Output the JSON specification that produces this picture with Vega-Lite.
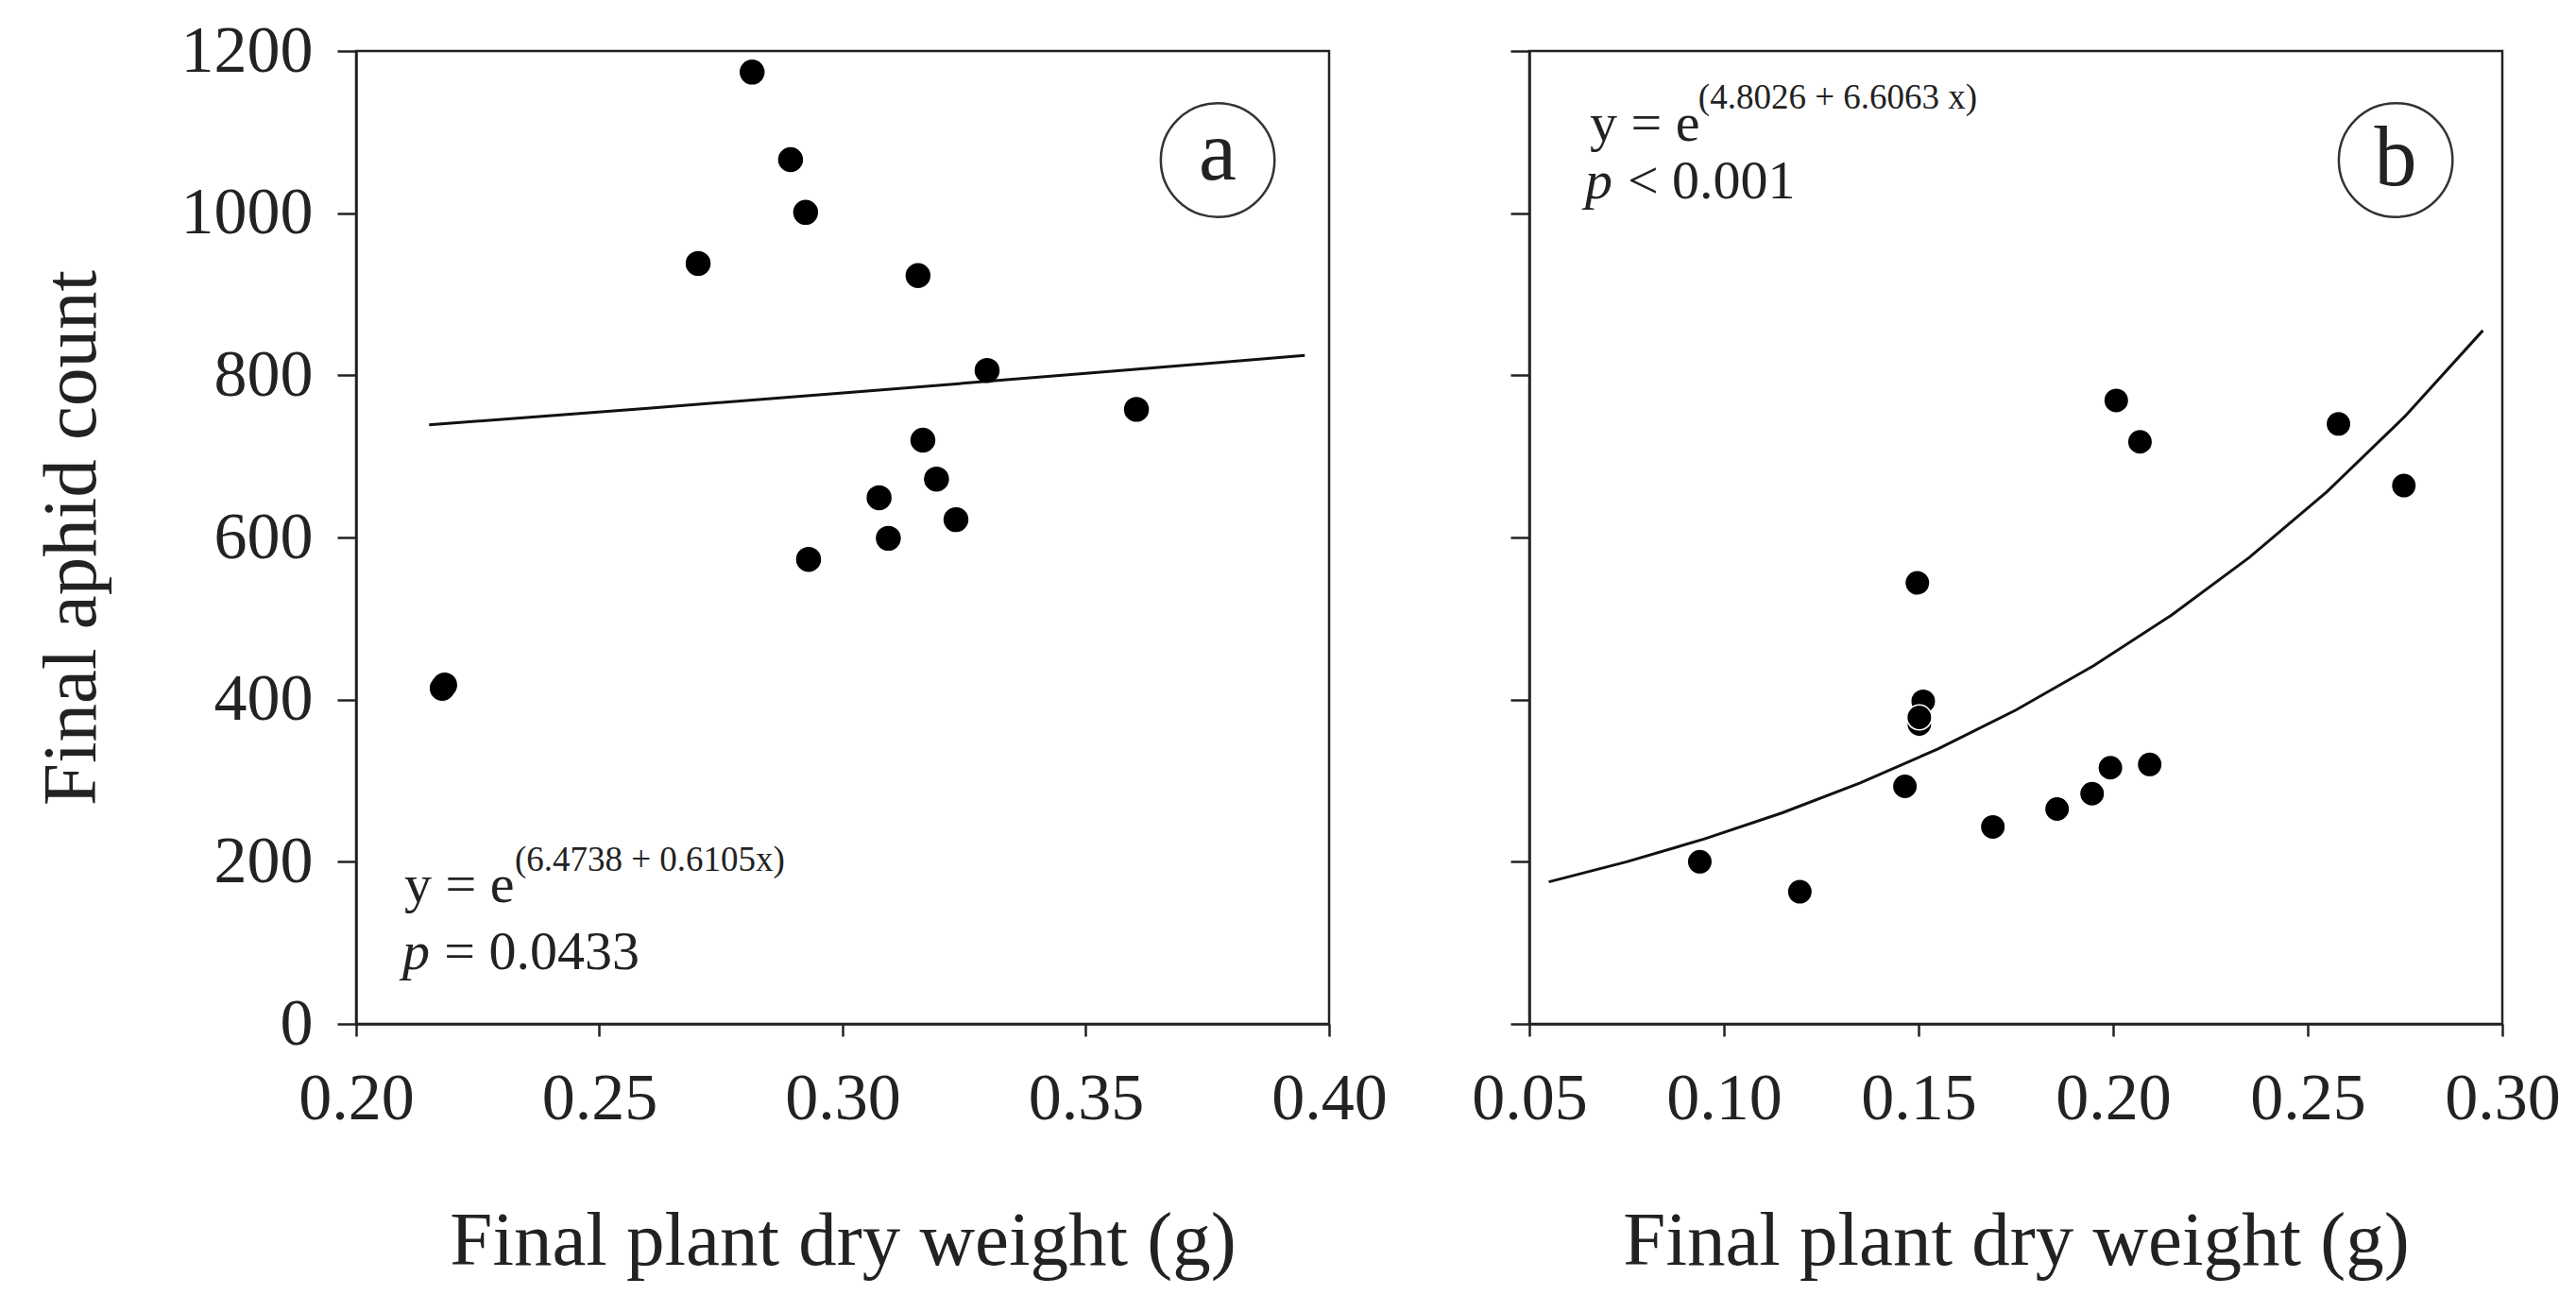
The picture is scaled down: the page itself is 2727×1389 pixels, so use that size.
{
  "$schema": "https://vega.github.io/schema/vega-lite/v6.json",
  "background": "white",
  "padding": {"left": 33, "top": 17, "right": 5, "bottom": 5},
  "config": {
    "font": "Liberation Serif",
    "view": {"stroke": "#222222", "strokeWidth": 2.5},
    "concat": {"spacing": 86},
    "axis": {
      "grid": false,
      "domainColor": "#222222",
      "domainWidth": 2.5,
      "tickColor": "#222222",
      "tickWidth": 2.5,
      "labelFont": "Liberation Serif",
      "labelFontSize": 70,
      "labelColor": "#222222",
      "titleFont": "Liberation Serif",
      "titleFontSize": 81,
      "titleFontWeight": "normal",
      "titleColor": "#222222",
      "labelFlush": false,
      "labelOverlap": false
    },
    "axisX": {"tickSize": 13, "labelPadding": 32, "titlePadding": 76},
    "axisY": {"tickSize": 20, "labelPadding": 26, "titlePadding": 74}
  },
  "datasets": {
    "pointsA": [
      {"weight": 0.2814, "aphids": 1174},
      {"weight": 0.2893, "aphids": 1066},
      {"weight": 0.2924, "aphids": 1001},
      {"weight": 0.2703, "aphids": 938},
      {"weight": 0.3155, "aphids": 923},
      {"weight": 0.3297, "aphids": 806},
      {"weight": 0.3604, "aphids": 758},
      {"weight": 0.3165, "aphids": 720},
      {"weight": 0.3193, "aphids": 672},
      {"weight": 0.3075, "aphids": 649},
      {"weight": 0.3233, "aphids": 622},
      {"weight": 0.3094, "aphids": 599},
      {"weight": 0.2930, "aphids": 573},
      {"weight": 0.2177, "aphids": 414},
      {"weight": 0.2182, "aphids": 418}
    ],
    "lineA": [
      {"weight": 0.215, "aphids": 738.8},
      {"weight": 0.260, "aphids": 759.4},
      {"weight": 0.305, "aphids": 780.6},
      {"weight": 0.350, "aphids": 802.3},
      {"weight": 0.395, "aphids": 824.6}
    ],
    "pointsB": [
      {"weight": 0.0938, "aphids": 200},
      {"weight": 0.1195, "aphids": 163},
      {"weight": 0.1465, "aphids": 293},
      {"weight": 0.1497, "aphids": 544},
      {"weight": 0.1502, "aphids": 370},
      {"weight": 0.1512, "aphids": 398},
      {"weight": 0.1502, "aphids": 378},
      {"weight": 0.1691, "aphids": 243},
      {"weight": 0.1856, "aphids": 265},
      {"weight": 0.1946, "aphids": 284},
      {"weight": 0.1993, "aphids": 316},
      {"weight": 0.2094, "aphids": 320},
      {"weight": 0.2008, "aphids": 769},
      {"weight": 0.2069, "aphids": 718},
      {"weight": 0.2579, "aphids": 740},
      {"weight": 0.2747, "aphids": 664}
    ],
    "lineB": [
      {"weight": 0.055, "aphids": 175.2},
      {"weight": 0.075, "aphids": 199.9},
      {"weight": 0.095, "aphids": 228.2},
      {"weight": 0.115, "aphids": 260.4},
      {"weight": 0.135, "aphids": 297.2},
      {"weight": 0.155, "aphids": 339.2},
      {"weight": 0.175, "aphids": 387.1},
      {"weight": 0.195, "aphids": 441.8},
      {"weight": 0.215, "aphids": 504.2},
      {"weight": 0.235, "aphids": 575.4},
      {"weight": 0.255, "aphids": 656.7},
      {"weight": 0.275, "aphids": 749.5},
      {"weight": 0.295, "aphids": 855.3}
    ],
    "notesA": [
      {"part": "eq", "weight": 0.2099, "aphids": 150.3, "label": "y = e"},
      {"part": "sup", "weight": 0.2326, "aphids": 188.7, "label": "(6.4738 + 0.6105x)"},
      {"part": "p", "weight": 0.2095, "aphids": 67.6, "label": "p"},
      {"part": "pval", "weight": 0.2181, "aphids": 67.6, "label": "= 0.0433"},
      {"part": "ring", "weight": 0.3771, "aphids": 1065.5, "label": ""},
      {"part": "tag", "weight": 0.3771, "aphids": 1041.6, "label": "a"}
    ],
    "notesB": [
      {"part": "eq", "weight": 0.06552, "aphids": 1089.4, "label": "y = e"},
      {"part": "sup", "weight": 0.0934, "aphids": 1129, "label": "(4.8026 + 6.6063 x)"},
      {"part": "p", "weight": 0.06431, "aphids": 1018.3, "label": "p"},
      {"part": "pval", "weight": 0.07522, "aphids": 1018.3, "label": "< 0.001"},
      {"part": "ring", "weight": 0.2726, "aphids": 1065.5, "label": ""},
      {"part": "tag", "weight": 0.2726, "aphids": 1035, "label": "b"}
    ]
  },
  "hconcat": [
    {
      "width": 1030,
      "height": 1030,
      "encoding": {
        "x": {"field": "weight", "type": "quantitative", "title": "Final plant dry weight (g)",
              "scale": {"domain": [0.2, 0.4], "nice": false, "zero": false},
              "axis": {"values": [0.2, 0.25, 0.3, 0.35, 0.4], "format": ".2f"}},
        "y": {"field": "aphids", "type": "quantitative", "title": "Final aphid count",
              "scale": {"domain": [0, 1200], "nice": false},
              "axis": {"values": [0, 200, 400, 600, 800, 1000, 1200], "format": "d"}}
      },
      "layer": [
        {"data": {"name": "lineA"}, "mark": {"type": "line", "color": "#111111", "strokeWidth": 3}},
        {"data": {"name": "pointsA"}, "mark": {"type": "point", "shape": "circle", "filled": true, "fill": "#000000", "strokeWidth": 0, "size": 700, "opacity": 1}},
        {"data": {"name": "notesA"}, "transform": [{"filter": "datum.part === 'ring'"}],
         "mark": {"type": "point", "shape": "circle", "filled": false, "stroke": "#333333", "strokeWidth": 2.5, "size": 14500, "opacity": 1}},
        {"data": {"name": "notesA"}, "transform": [{"filter": "datum.part === 'tag'"}],
         "mark": {"type": "text", "font": "Liberation Serif", "fontSize": 90, "align": "center", "baseline": "alphabetic", "color": "#222222"},
         "encoding": {"text": {"field": "label"}}},
        {"data": {"name": "notesA"}, "transform": [{"filter": "datum.part === 'eq' || datum.part === 'pval'"}],
         "mark": {"type": "text", "font": "Liberation Serif", "fontSize": 58, "align": "left", "baseline": "alphabetic", "color": "#222222"},
         "encoding": {"text": {"field": "label"}}},
        {"data": {"name": "notesA"}, "transform": [{"filter": "datum.part === 'p'"}],
         "mark": {"type": "text", "font": "Liberation Serif", "fontSize": 58, "fontStyle": "italic", "align": "left", "baseline": "alphabetic", "color": "#222222"},
         "encoding": {"text": {"field": "label"}}},
        {"data": {"name": "notesA"}, "transform": [{"filter": "datum.part === 'sup'"}],
         "mark": {"type": "text", "font": "Liberation Serif", "fontSize": 37, "align": "left", "baseline": "alphabetic", "color": "#222222"},
         "encoding": {"text": {"field": "label"}}}
      ]
    },
    {
      "width": 1030,
      "height": 1030,
      "encoding": {
        "x": {"field": "weight", "type": "quantitative", "title": "Final plant dry weight (g)",
              "scale": {"domain": [0.05, 0.3], "nice": false, "zero": false},
              "axis": {"values": [0.05, 0.1, 0.15, 0.2, 0.25, 0.3], "format": ".2f"}},
        "y": {"field": "aphids", "type": "quantitative", "title": null,
              "scale": {"domain": [0, 1200], "nice": false},
              "axis": {"values": [0, 200, 400, 600, 800, 1000, 1200], "labels": false}}
      },
      "layer": [
        {"data": {"name": "lineB"}, "mark": {"type": "line", "color": "#111111", "strokeWidth": 3}},
        {"data": {"name": "pointsB"}, "mark": {"type": "point", "shape": "circle", "filled": true, "fill": "#000000", "stroke": "white", "strokeWidth": 1.5, "size": 700, "opacity": 1}},
        {"data": {"name": "notesB"}, "transform": [{"filter": "datum.part === 'ring'"}],
         "mark": {"type": "point", "shape": "circle", "filled": false, "stroke": "#333333", "strokeWidth": 2.5, "size": 14500, "opacity": 1}},
        {"data": {"name": "notesB"}, "transform": [{"filter": "datum.part === 'tag'"}],
         "mark": {"type": "text", "font": "Liberation Serif", "fontSize": 90, "align": "center", "baseline": "alphabetic", "color": "#222222"},
         "encoding": {"text": {"field": "label"}}},
        {"data": {"name": "notesB"}, "transform": [{"filter": "datum.part === 'eq' || datum.part === 'pval'"}],
         "mark": {"type": "text", "font": "Liberation Serif", "fontSize": 58, "align": "left", "baseline": "alphabetic", "color": "#222222"},
         "encoding": {"text": {"field": "label"}}},
        {"data": {"name": "notesB"}, "transform": [{"filter": "datum.part === 'p'"}],
         "mark": {"type": "text", "font": "Liberation Serif", "fontSize": 58, "fontStyle": "italic", "align": "left", "baseline": "alphabetic", "color": "#222222"},
         "encoding": {"text": {"field": "label"}}},
        {"data": {"name": "notesB"}, "transform": [{"filter": "datum.part === 'sup'"}],
         "mark": {"type": "text", "font": "Liberation Serif", "fontSize": 37, "align": "left", "baseline": "alphabetic", "color": "#222222"},
         "encoding": {"text": {"field": "label"}}}
      ]
    }
  ]
}
